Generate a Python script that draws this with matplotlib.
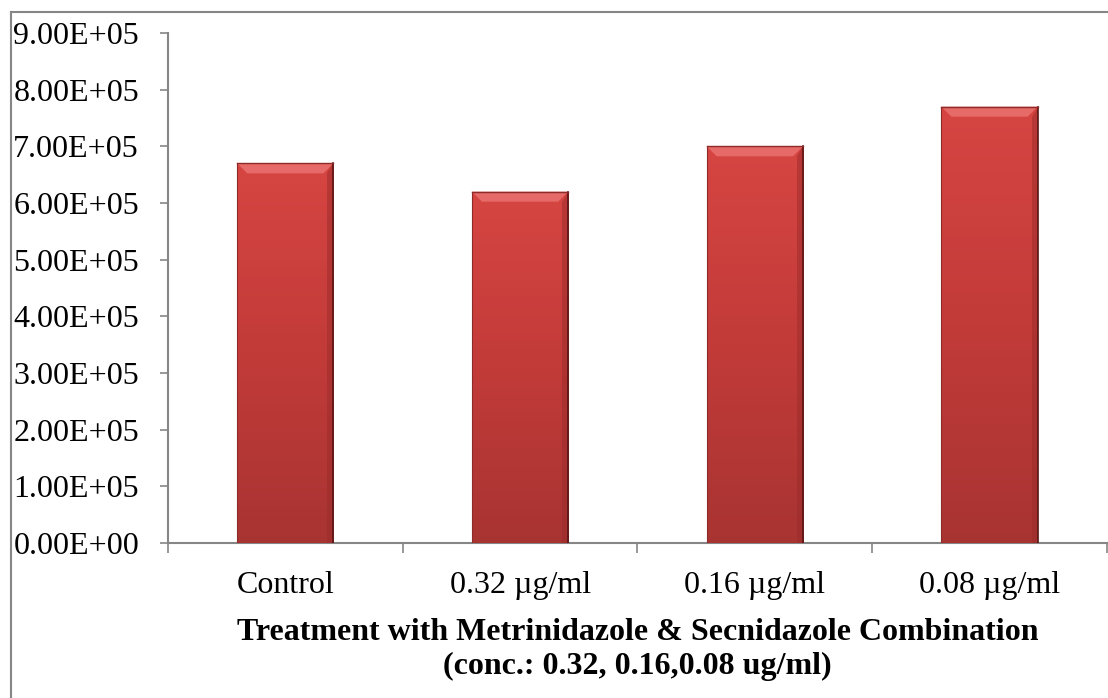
import numpy as np
import matplotlib
matplotlib.use("Agg")
import matplotlib.pyplot as plt
from matplotlib.patches import Polygon
from matplotlib.colors import LinearSegmentedColormap
from matplotlib.ticker import FuncFormatter

# cell counts per treatment group
groups = ["Control", "0.32 \u00b5g/ml", "0.16 \u00b5g/ml", "0.08 \u00b5g/ml"]
counts = [6.7e5, 6.2e5, 7.0e5, 7.7e5]
y_ticks = [0, 1e5, 2e5, 3e5, 4e5, 5e5, 6e5, 7e5, 8e5, 9e5]

plt.rcParams["font.family"] = ["Liberation Serif", "DejaVu Serif"]
grey = "#868686"

fig = plt.figure(figsize=(11.08, 6.98), dpi=100)
ax = fig.add_axes([0.1516, 0.2221, 0.8474, 0.7306])

x = np.arange(len(groups))
width = 0.41
bars = ax.bar(x, counts, width=width, color="#C83C3A", edgecolor="none", zorder=2)

# vertical red shading inside every bar, lighter at the top
shade = LinearSegmentedColormap.from_list("shade", ["#A83432", "#C23B39", "#D64542"])
grad = np.linspace(0, 1, 256).reshape(-1, 1)
ylim = (0, 9e5)
xlim = (-0.5, len(groups) - 0.5)

# size of the bevel, worked out from the axis scale (about 10 px)
px_x = (xlim[1] - xlim[0]) / (0.8474 * 1108)
px_y = (ylim[1] - ylim[0]) / (0.7306 * 698)
for b in bars:
    x0, w, h = b.get_x(), b.get_width(), b.get_height()
    im = ax.imshow(grad, cmap=shade, origin="lower", aspect="auto",
                   extent=(x0, x0 + w, 0, h), zorder=3)
    im.set_clip_path(b)
    bx, by = 10 * px_x, 10 * px_y
    ax.add_patch(Polygon([(x0, h), (x0 + w, h), (x0 + w - bx, h - by), (x0 + bx, h - by)],
                         closed=True, facecolor="#E66A67", edgecolor="none", zorder=4))
    ax.add_patch(Polygon([(x0 + w, h), (x0 + w, 0), (x0 + w - bx * 0.6, 0), (x0 + w - bx * 0.6, h - by)],
                         closed=True, facecolor="#9A2C2A", edgecolor="none", alpha=0.5, zorder=4))
    ax.plot([x0 + w, x0 + w], [0, h], color="#5A1515", lw=1.2, zorder=5)
    ax.plot([x0, x0 + w], [h, h], color="#8E2A28", lw=1.0, zorder=5)
    ax.plot([x0, x0], [0, h], color="#8E2A28", lw=0.8, zorder=5)

ax.set_xlim(*xlim)
ax.set_ylim(*ylim)

ax.set_yticks(y_ticks)
ax.yaxis.set_major_formatter(FuncFormatter(lambda v, p: "%.2E" % v))
ax.set_xticks(x)
ax.set_xticklabels(groups)
ax.set_xticks(np.arange(len(groups) + 1) - 0.5, minor=True)
ax.tick_params(axis="x", which="major", length=0, pad=20, labelsize=23)
ax.tick_params(axis="x", which="minor", length=7, color=grey, width=1.2)
ax.tick_params(axis="y", length=5.8, color=grey, width=1.2, pad=15, labelsize=23)

for side in ["top", "right"]:
    ax.spines[side].set_visible(False)
for side in ["left", "bottom"]:
    ax.spines[side].set_color(grey)
    ax.spines[side].set_linewidth(1.5)

ax.set_xlabel("Treatment with Metrinidazole & Secnidazole Combination\n(conc.: 0.32, 0.16,0.08 ug/ml)",
              fontsize=23, fontweight="bold", labelpad=13, linespacing=1.25)

# outer chart frame
fig.add_artist(plt.Line2D([11 / 1108, 11 / 1108], [0, 1 - 12 / 698], color=grey, lw=1.5))
fig.add_artist(plt.Line2D([11 / 1108, 1], [1 - 12 / 698, 1 - 12 / 698], color=grey, lw=1.5))

fig.savefig("out.png", dpi=100, facecolor="white")
